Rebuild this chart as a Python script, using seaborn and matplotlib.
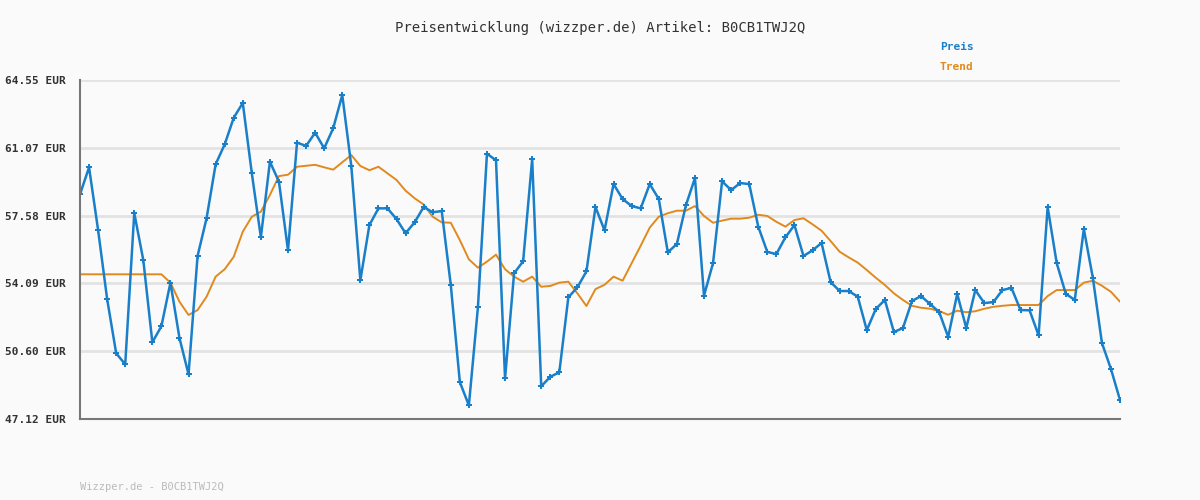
import matplotlib
matplotlib.use("Agg")
import matplotlib.pyplot as plt
import seaborn as sns
import numpy as np
import pandas as pd

preis = [58.67,60.06,56.84,53.29,50.50,49.93,57.71,55.29,51.06,51.89,54.13,51.28,49.42,55.50,57.45,60.22,61.24,62.61,63.37,59.75,
56.46,60.35,59.32,55.79,61.33,61.16,61.84,61.04,62.07,63.78,60.13,54.25,57.09,57.95,57.95,57.40,56.67,57.23,58.02,
57.75,57.81,54.01,49.02,47.82,52.86,60.76,60.42,49.21,54.61,55.23,60.49,48.80,49.29,49.52,53.38,53.89,54.71,58.02,56.82,
59.20,58.43,58.07,57.95,59.20,58.43,55.69,56.12,58.11,59.51,53.46,55.14,59.34,58.89,59.25,59.20,57.01,55.71,55.60,
56.46,57.09,55.50,55.79,56.17,54.16,53.70,53.70,53.41,51.69,52.78,53.24,51.59,51.80,53.19,53.44,53.03,52.62,51.34,53.55,
51.80,53.75,53.08,53.13,53.75,53.86,52.72,52.71,51.42,58.02,55.14,53.56,53.24,56.89,54.37,51.03,49.69,48.10]
trend = [54.56]*10 + [54.13,53.15,52.47,52.72,53.41,54.44,54.82,55.46,56.75,57.52,57.78,58.64,59.61,59.68,60.09,60.14,60.19,60.06,59.94,
60.32,60.69,60.13,59.91,60.09,59.75,59.41,58.86,58.47,58.15,
57.52,57.23,57.21,56.32,55.33,54.90,55.21,55.57,54.82,54.44,54.18,54.44,53.92,53.96,54.13,54.18,53.58,52.93,53.80,54.02,
54.44,54.23,55.13,56.03,56.96,57.52,57.70,57.83,57.83,58.07,57.56,57.21,57.32,57.42,57.42,57.47,57.62,57.56,57.26,
57.01,57.35,57.44,57.13,56.80,56.27,55.72,55.43,55.16,54.78,54.38,54.01,53.58,53.24,52.94,52.84,52.79,52.67,52.48,52.69,
52.61,52.66,52.79,52.89,52.94,52.98,52.98,52.98,52.98,53.44,53.75,53.75,53.75,54.13,54.23,53.97,53.66,53.15]
yticks = [47.12, 50.60, 54.09, 57.58, 61.07, 64.55]
ytick_labels = [f"{v:.2f} EUR" for v in yticks]

df = pd.DataFrame({"idx": np.arange(len(preis)), "Preis": preis, "Trend": trend})

sns.set_style("white")
plt.rcParams['font.family'] = ['DejaVu Sans Mono', 'DejaVu Sans']
fig = plt.figure(figsize=(12, 5), dpi=100, facecolor="#fafafa")
ax = fig.add_axes([80/1200, 1-419/500, 1040/1200, 339/500])
ax.set_facecolor("#fafafa")
blue = "#1a7fc9"; orange = "#e08a1e"
sns.lineplot(data=df, x="idx", y="Trend", ax=ax, color=orange, lw=1.4)
sns.lineplot(data=df, x="idx", y="Preis", ax=ax, color=blue, lw=1.8, marker="P", markersize=4, markeredgewidth=0)
ax.set_xlim(0, len(preis)-1)
ax.set_ylim(47.12, 64.55)
ax.set_yticks(yticks)
ax.set_yticklabels(ytick_labels, fontsize=8, fontweight="bold", color="#333333")
ax.set_xticks([])
ax.set_xlabel(""); ax.set_ylabel("")
ax.grid(axis="y", color="#e3e3e3", lw=2)
ax.tick_params(axis="y", length=8, color="#777777", width=1, pad=2)
for s in ["top", "right"]:
    ax.spines[s].set_visible(False)
for s in ["left", "bottom"]:
    ax.spines[s].set_color("#777777"); ax.spines[s].set_linewidth(1.5)
fig.text(0.5, 1-28/500, "Preisentwicklung (wizzper.de) Artikel: B0CB1TWJ2Q", ha="center", va="center", fontsize=10, color="#333333")
fig.text(940/1200, 1-47/500, "Preis", color=blue, fontsize=8, fontweight="bold", va="center")
fig.text(940/1200, 1-67/500, "Trend", color=orange, fontsize=8, fontweight="bold", va="center")
fig.text(80/1200, 1-487/500, "Wizzper.de - B0CB1TWJ2Q", color="#bbbbbb", fontsize=7.5, va="center")
fig.savefig("out.png", dpi=100, facecolor=fig.get_facecolor())
